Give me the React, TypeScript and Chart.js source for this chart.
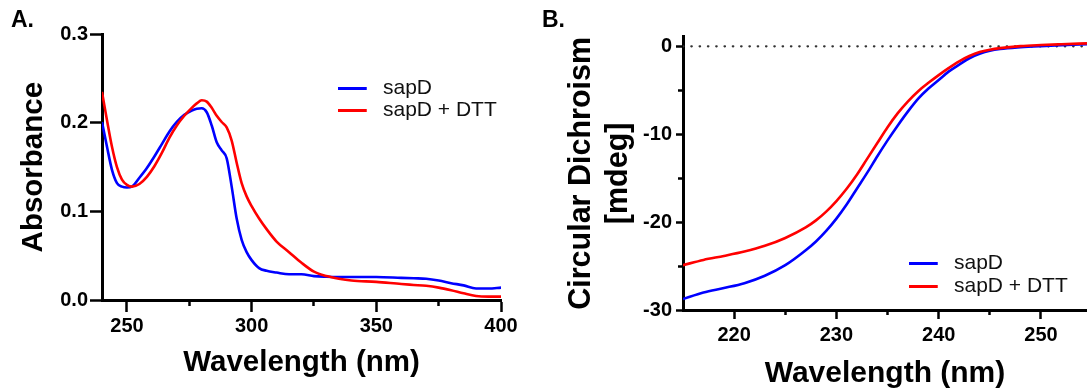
import React, { useEffect, useRef } from 'react';
import { Chart, registerables } from 'chart.js';

Chart.register(...registerables);

const FONT = '"Liberation Sans", Arial, Helvetica, sans-serif';

// ---------- Panel A: absorbance ----------
const absWavelengths = [240, 242, 244, 246, 248, 250, 252, 255, 258, 261, 264, 267, 270, 273, 276, 278, 280, 282, 284, 286, 288, 290, 292, 294, 296, 298, 300, 303, 306, 310, 315, 320, 325, 330, 335, 340, 350, 360, 365, 370, 375, 380, 385, 390, 395, 400];
const absSapD = [0.201, 0.173, 0.147, 0.132, 0.128, 0.127, 0.128, 0.138, 0.149, 0.162, 0.176, 0.19, 0.201, 0.209, 0.214, 0.216, 0.2165, 0.212, 0.197, 0.178, 0.169, 0.16, 0.128, 0.092, 0.068, 0.054, 0.045, 0.036, 0.033, 0.031, 0.029, 0.029, 0.027, 0.0263, 0.026, 0.026, 0.026, 0.025, 0.0245, 0.024, 0.022, 0.019, 0.0165, 0.013, 0.013, 0.014];
const absSapDDTT = [0.235, 0.203, 0.173, 0.15, 0.136, 0.13, 0.128, 0.131, 0.139, 0.151, 0.166, 0.183, 0.197, 0.208, 0.217, 0.222, 0.2255, 0.224, 0.217, 0.208, 0.201, 0.195, 0.18, 0.155, 0.132, 0.117, 0.106, 0.092, 0.08, 0.066, 0.054, 0.042, 0.032, 0.027, 0.024, 0.022, 0.0205, 0.018, 0.017, 0.016, 0.014, 0.011, 0.0075, 0.0045, 0.0038, 0.0038];
const absXMajorTicks = [250, 300, 350, 400];
const absXMinorTicks = [275, 325, 375];
const absYTicks = [0, 0.1, 0.2, 0.3];

// ---------- Panel B: circular dichroism ----------
const cdWavelengths = [215, 217, 219, 221, 223, 225, 227, 228, 229, 230, 231, 232, 233, 234, 235, 236, 237, 238, 239, 240, 241, 242, 243, 244, 245, 246, 248, 250, 252, 254.5];
const cdSapD = [-28.75, -28.0, -27.5, -26.95, -26.1, -24.9, -23.2, -22.2, -21.0, -19.6, -18.0, -16.2, -14.4, -12.5, -10.7, -9.0, -7.4, -5.95, -4.8, -3.83, -2.85, -2.08, -1.35, -0.85, -0.5, -0.3, -0.1, 0.03, 0.13, 0.25];
const cdSapDDTT = [-24.9, -24.3, -23.85, -23.35, -22.7, -21.8, -20.6, -19.8, -18.8, -17.6, -16.2, -14.6, -12.8, -11.0, -9.2, -7.6, -6.25, -5.1, -4.15, -3.27, -2.45, -1.7, -1.1, -0.65, -0.38, -0.2, 0.03, 0.15, 0.24, 0.34];
const cdBaselineX = [215, 254.5];
const cdBaselineY = [0, 0];
const cdXMajorTicks = [220, 230, 240, 250];
const cdXMinorTicks = [225, 235, 245];
const cdYMajorTicks = [-30, -20, -10, 0];
const cdYMinorTicks = [-25, -15, -5];

const seriesNames = ['sapD', 'sapD + DTT'];
const seriesColors = ['#0000ff', '#ff0000'];

const pairs = (xs: number[], ys: number[]) => xs.map((x, i) => ({ x, y: ys[i] }));
const setTicks = (values: number[]) => (scale: any) => {
  scale.ticks = values.map((v) => ({ value: v }));
};

function swatch(color: string) {
  const c = document.createElement('canvas');
  c.width = 35;
  c.height = 3;
  const g = c.getContext('2d')!;
  g.fillStyle = color;
  g.fillRect(0, 0, 29, 3);
  return c;
}

const placeLegend = (x: number, y: number) => ({
  id: 'placeLegend',
  afterLayout(chart: any) {
    const lg = chart.legend;
    if (!lg) return;
    const w = lg.width;
    lg.left = x;
    lg.right = x + w;
    lg.top = y;
    lg.bottom = y + 200;
  },
});

const tickFont = { family: FONT, size: 20, weight: 'bold' as const };

function lineDatasets(xs: number[], a: number[], b: number[]) {
  return [
    {
      label: seriesNames[0],
      data: pairs(xs, a),
      borderColor: seriesColors[0],
      backgroundColor: seriesColors[0],
      borderWidth: 2.6,
      pointRadius: 0,
      pointStyle: swatch(seriesColors[0]),
      cubicInterpolationMode: 'monotone' as const,
      xAxisID: 'x',
      yAxisID: 'y',
      order: 1,
    },
    {
      label: seriesNames[1],
      data: pairs(xs, b),
      borderColor: seriesColors[1],
      backgroundColor: seriesColors[1],
      borderWidth: 2.6,
      pointRadius: 0,
      pointStyle: swatch(seriesColors[1]),
      cubicInterpolationMode: 'monotone' as const,
      xAxisID: 'x',
      yAxisID: 'y',
      order: 0,
    },
  ];
}

function legendOpts(padding: number) {
  return {
    display: true,
    position: 'chartArea' as const,
    align: 'start' as const,
    labels: {
      usePointStyle: true,
      pointStyleWidth: 34.5,
      padding,
      color: '#111',
      font: { family: FONT, size: 21 },
      filter: (item: any) => item.datasetIndex < 2,
      sort: (a: any, b: any) => a.datasetIndex - b.datasetIndex,
    },
  };
}

function configA(): any {
  return {
    type: 'line',
    data: { datasets: lineDatasets(absWavelengths, absSapD, absSapDDTT) },
    options: {
      responsive: false,
      animation: false,
      events: [],
      layout: { autoPadding: false, padding: { left: 11, right: 39, top: 0, bottom: 0 } },
      plugins: {
        legend: legendOpts(1),
        title: {
          display: true,
          text: 'A.',
          align: 'start',
          color: '#000',
          font: { family: FONT, size: 23, weight: 'bold' },
          padding: { top: 6.7, bottom: 0 },
        },
        tooltip: { enabled: false },
      },
      scales: {
        x: {
          type: 'linear',
          position: 'bottom',
          weight: 1,
          min: 240,
          max: 400,
          afterBuildTicks: setTicks(absXMajorTicks),
          afterFit: (s: any) => { s.height = 92; },
          border: { display: true, color: '#000', width: 3 },
          grid: { display: true, drawOnChartArea: false, drawTicks: true, tickLength: 12, tickWidth: 2.5, tickColor: '#000' },
          ticks: { autoSkip: false, maxRotation: 0, padding: 2.5, color: '#000', font: tickFont, callback: (v: any) => String(v) },
          title: { display: true, text: 'Wavelength (nm)', color: '#000', font: { family: FONT, size: 29.5, weight: 'bold' }, padding: { top: 0, bottom: 11.3 } },
        },
        xMinor: {
          type: 'linear',
          position: 'bottom',
          weight: 0,
          min: 240,
          max: 400,
          afterBuildTicks: setTicks(absXMinorTicks),
          afterFit: (s: any) => { s.height = 0; },
          border: { display: false },
          grid: { display: true, drawOnChartArea: false, drawTicks: true, tickLength: 6, tickWidth: 2.5, tickColor: '#000' },
          ticks: { autoSkip: false, maxRotation: 0, padding: 0, callback: () => '' },
          title: { display: false },
        },
        y: {
          type: 'linear',
          position: 'left',
          min: 0,
          max: 0.3,
          afterBuildTicks: setTicks(absYTicks),
          afterFit: (s: any) => { s.width = 91; },
          border: { display: true, color: '#000', width: 3 },
          grid: { display: true, drawOnChartArea: false, drawTicks: true, tickLength: 12, tickWidth: 2.5, tickColor: '#000' },
          ticks: { autoSkip: false, padding: 2, color: '#000', font: tickFont, callback: (v: any) => Number(v).toFixed(1) },
          title: { display: true, text: 'Absorbance', color: '#000', font: { family: FONT, size: 29.5, weight: 'bold' }, padding: { top: 5.3, bottom: 0 } },
        },
      },
    },
    plugins: [placeLegend(337, 76.5)],
  };
}

function configB(): any {
  const datasets: any[] = lineDatasets(cdWavelengths, cdSapD, cdSapDDTT);
  datasets.push({
    label: '',
    data: pairs(cdBaselineX, cdBaselineY),
    borderColor: '#333',
    borderWidth: 2.2,
    borderDash: [0.5, 7.8],
    borderCapStyle: 'round',
    pointRadius: 0,
    xAxisID: 'x',
    yAxisID: 'y',
    order: 2,
  });
  return {
    type: 'line',
    data: { datasets },
    options: {
      responsive: false,
      animation: false,
      events: [],
      layout: { autoPadding: false, padding: { left: 2, right: 0, top: 0, bottom: 0 } },
      plugins: {
        legend: legendOpts(2),
        title: {
          display: true,
          text: 'B.',
          align: 'start',
          color: '#000',
          font: { family: FONT, size: 23, weight: 'bold' },
          padding: { top: 7, bottom: 2.1 },
        },
        tooltip: { enabled: false },
      },
      scales: {
        x: {
          type: 'linear',
          position: 'bottom',
          weight: 1,
          min: 215,
          max: 254.5,
          afterBuildTicks: setTicks(cdXMajorTicks),
          afterFit: (s: any) => { s.height = 82; },
          border: { display: true, color: '#000', width: 3 },
          grid: { display: true, drawOnChartArea: false, drawTicks: true, tickLength: 9, tickWidth: 2.5, tickColor: '#000' },
          ticks: { autoSkip: false, maxRotation: 0, padding: 4, color: '#000', font: tickFont, callback: (v: any) => String(v) },
          title: { display: true, text: 'Wavelength (nm)', color: '#000', font: { family: FONT, size: 30, weight: 'bold' }, padding: { top: 0, bottom: 0.5 } },
        },
        xMinor: {
          type: 'linear',
          position: 'bottom',
          weight: 0,
          min: 215,
          max: 254.5,
          afterBuildTicks: setTicks(cdXMinorTicks),
          afterFit: (s: any) => { s.height = 0; },
          border: { display: false },
          grid: { display: true, drawOnChartArea: false, drawTicks: true, tickLength: 5, tickWidth: 2.5, tickColor: '#000' },
          ticks: { autoSkip: false, maxRotation: 0, padding: 0, callback: () => '' },
          title: { display: false },
        },
        y: {
          type: 'linear',
          position: 'left',
          weight: 1,
          min: -30,
          max: 1.1,
          afterBuildTicks: setTicks(cdYMajorTicks),
          afterFit: (s: any) => { s.width = 141; },
          border: { display: true, color: '#000', width: 3 },
          grid: { display: true, drawOnChartArea: false, drawTicks: true, tickLength: 7, tickWidth: 2.5, tickColor: '#000' },
          ticks: { autoSkip: false, padding: 4, color: '#000', font: tickFont, callback: (v: any) => String(v) },
          title: {
            display: true,
            text: ['Circular Dichroism', '[mdeg]'],
            color: '#000',
            font: { family: FONT, size: 30.5, weight: 'bold', lineHeight: 1.2 },
            padding: { top: 21.7, bottom: 0 },
          },
        },
        yMinor: {
          type: 'linear',
          position: 'left',
          weight: 0,
          min: -30,
          max: 1.1,
          afterBuildTicks: setTicks(cdYMinorTicks),
          afterFit: (s: any) => { s.width = 0; },
          border: { display: false },
          grid: { display: true, drawOnChartArea: false, drawTicks: true, tickLength: 5, tickWidth: 2.5, tickColor: '#000' },
          ticks: { autoSkip: false, padding: 0, callback: () => '' },
          title: { display: false },
        },
      },
    },
    plugins: [placeLegend(367, 250.5)],
  };
}

function ChartCanvas({ makeConfig, left, width }: { makeConfig: () => any; left: number; width: number }) {
  const ref = useRef<HTMLCanvasElement>(null);
  useEffect(() => {
    const chart = new Chart(ref.current!, makeConfig());
    return () => chart.destroy();
  }, []);
  return (
    <canvas
      ref={ref}
      width={width}
      height={392}
      style={{ position: 'absolute', left, top: 0, width, height: 392, display: 'block' }}
    />
  );
}

export default function App() {
  return (
    <div style={{ position: 'absolute', left: 0, top: 0, width: 1087, height: 392, overflow: 'hidden', background: '#fff' }}>
      <ChartCanvas makeConfig={configA} left={0} width={540} />
      <ChartCanvas makeConfig={configB} left={540} width={547} />
    </div>
  );
}
